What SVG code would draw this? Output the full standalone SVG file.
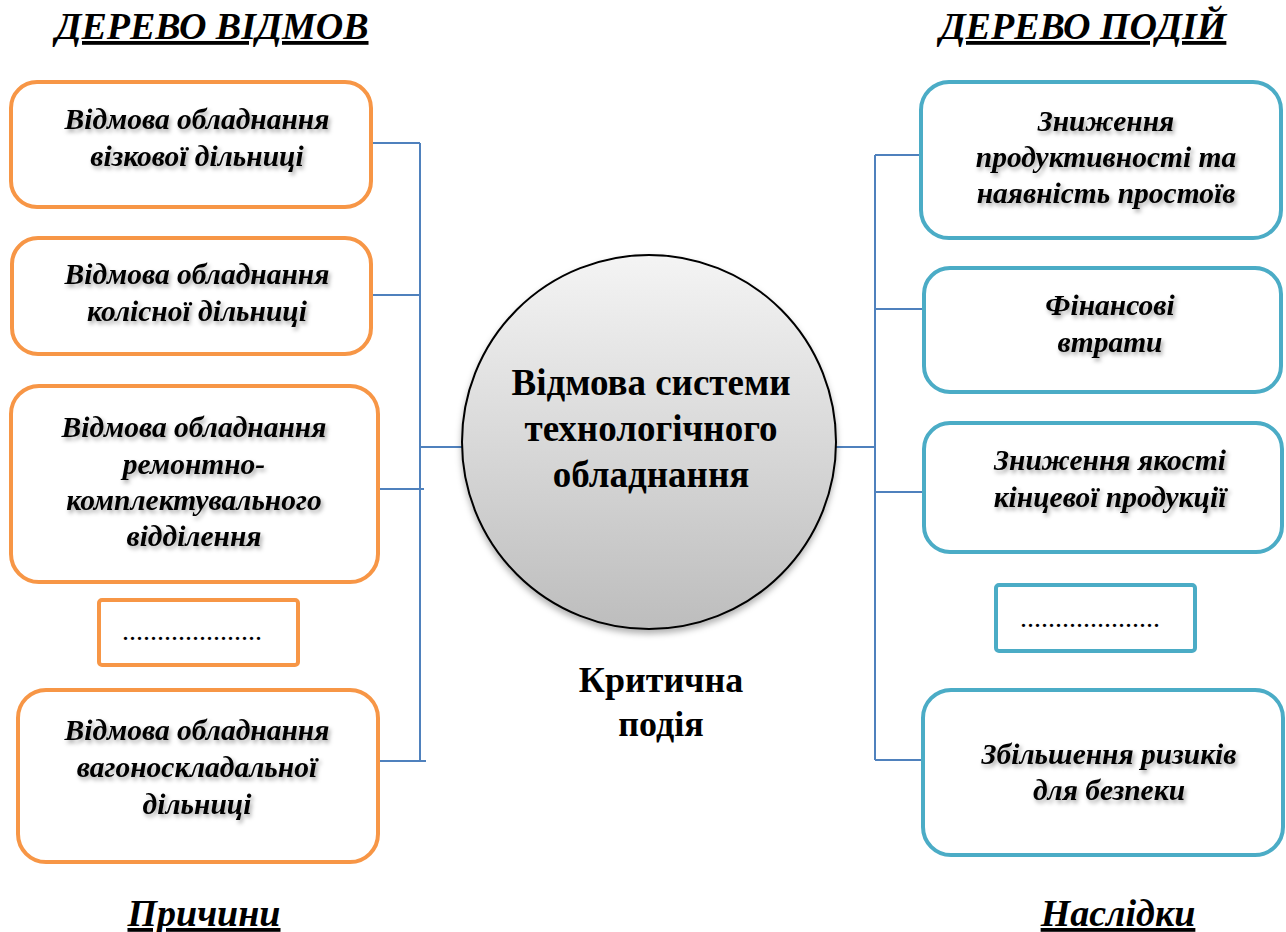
<svg xmlns="http://www.w3.org/2000/svg" width="1286" height="932" viewBox="0 0 1286 932">
<defs>
<linearGradient id="g" x1="0" y1="0" x2="0" y2="1">
<stop offset="0" stop-color="#f4f4f4"/>
<stop offset="1" stop-color="#bdbdbd"/>
</linearGradient>
<filter id="ts" x="-10%" y="-30%" width="120%" height="160%">
<feDropShadow dx="2" dy="3" stdDeviation="2" flood-color="#000" flood-opacity="0.35"/>
</filter>
<filter id="cs" x="-10%" y="-10%" width="120%" height="125%">
<feDropShadow dx="0" dy="4" stdDeviation="3" flood-color="#000" flood-opacity="0.3"/>
</filter>
</defs>
<style>
.o{fill:#fff;stroke:#F79646;stroke-width:4}
.b{fill:#fff;stroke:#4BACC6;stroke-width:4}
.t{font-family:"Liberation Serif",serif;font-weight:bold;font-style:italic;font-size:29.5px;fill:#000;text-anchor:middle;filter:url(#ts)}
.d{font-family:"Liberation Serif",serif;font-size:28px;fill:#000;text-anchor:middle}
.h{font-family:"Liberation Serif",serif;font-weight:bold;font-style:italic;font-size:38px;fill:#000;text-anchor:middle;text-decoration:underline}
.c{font-family:"Liberation Serif",serif;font-weight:bold;font-size:37px;fill:#000;text-anchor:middle}
.k{font-family:"Liberation Serif",serif;font-weight:bold;font-size:36px;fill:#000;text-anchor:middle}
.l{fill:none;stroke:#4F81BD;stroke-width:2}
</style>
<g id="titles">
<text class="h" x="212" y="39">ДЕРЕВО ВІДМОВ</text>
<text class="h" x="1083" y="39">ДЕРЕВО ПОДІЙ</text>
<text class="h" x="204" y="926" font-size="35">Причини</text>
<text class="h" x="1118" y="926" font-size="36">Наслідки</text>
</g>
<g id="connectors">
<path class="l" d="M420 143V761M371 143H420M371 295H420M378 489H424M420 447H462M378 761H426"/>
<path class="l" d="M875 155V760M875 155H921M875 309H924M836 447H875M875 492H924M875 760H924"/>
</g>
<g id="center">
<circle cx="649" cy="442" r="187" fill="url(#g)" stroke="#000" stroke-width="2" filter="url(#cs)"/>
<text class="c" x="651" y="395">Відмова системи</text>
<text class="c" x="651" y="441">технологічного</text>
<text class="c" x="651" y="487">обладнання</text>
</g>
<g id="critical">
<text class="k" x="661" y="692">Критична</text>
<text class="k" x="661" y="736">подія</text>
</g>
<g id="c1">
<rect class="o" x="11" y="82" width="360" height="125" rx="26"/>
<text class="t" x="197" y="129">Відмова обладнання</text>
<text class="t" x="197" y="166">візкової дільниці</text>
</g>
<g id="c2">
<rect class="o" x="12" y="238" width="359" height="116" rx="26"/>
<text class="t" x="197" y="284">Відмова обладнання</text>
<text class="t" x="197" y="321">колісної дільниці</text>
</g>
<g id="c3">
<rect class="o" x="11" y="386" width="367" height="196" rx="28"/>
<text class="t" x="194" y="437">Відмова обладнання</text>
<text class="t" x="194" y="474">ремонтно-</text>
<text class="t" x="194" y="510">комплектувального</text>
<text class="t" x="194" y="546">відділення</text>
</g>
<g id="c4">
<rect class="o" x="99" y="600" width="199" height="65" rx="3"/>
<text class="d" x="192" y="640">....................</text>
</g>
<g id="c5">
<rect class="o" x="18" y="690" width="360" height="172" rx="28"/>
<text class="t" x="197" y="740">Відмова обладнання</text>
<text class="t" x="197" y="777">вагоноскладальної</text>
<text class="t" x="197" y="814">дільниці</text>
</g>
<g id="e1">
<rect class="b" x="921" y="82" width="360" height="156" rx="28"/>
<text class="t" x="1106" y="131">Зниження</text>
<text class="t" x="1106" y="167">продуктивності та</text>
<text class="t" x="1106" y="203">наявність простоїв</text>
</g>
<g id="e2">
<rect class="b" x="924" y="268" width="357" height="124" rx="26"/>
<text class="t" x="1110" y="315">Фінансові</text>
<text class="t" x="1110" y="352">втрати</text>
</g>
<g id="e3">
<rect class="b" x="924" y="423" width="358" height="129" rx="26"/>
<text class="t" x="1110" y="470">Зниження якості</text>
<text class="t" x="1110" y="507">кінцевої продукції</text>
</g>
<g id="e4">
<rect class="b" x="996" y="585" width="199" height="66" rx="3"/>
<text class="d" x="1090" y="627">....................</text>
</g>
<g id="e5">
<rect class="b" x="923" y="690" width="360" height="165" rx="28"/>
<text class="t" x="1109" y="764">Збільшення ризиків</text>
<text class="t" x="1109" y="800">для безпеки</text>
</g>
</svg>
